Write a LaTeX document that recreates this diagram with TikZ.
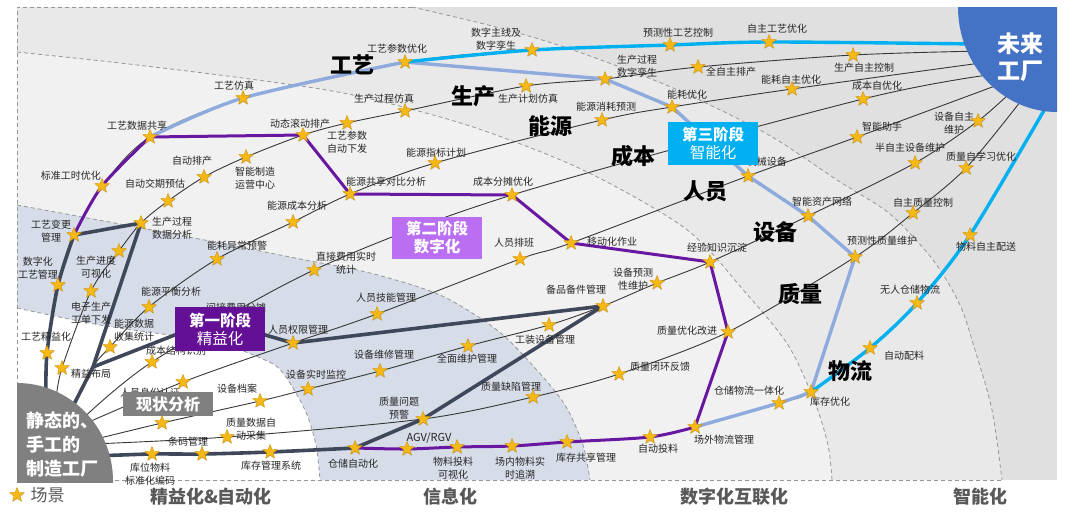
\documentclass[tikz,border=0pt]{standalone}
\usepackage{fontspec}
\setmainfont{Noto Sans CJK SC}
\usetikzlibrary{shapes.geometric,positioning,shadows}
\definecolor{LeanInk}{RGB}{62,72,90}
\definecolor{LeanPurple}{RGB}{100,16,150}
\definecolor{InfoPurple}{RGB}{104,24,160}
\definecolor{DigiViolet}{RGB}{186,110,242}
\definecolor{DigiBlue}{RGB}{143,170,220}
\definecolor{SmartCyan}{RGB}{0,176,240}
\definecolor{FutureBlue}{RGB}{68,114,196}
\definecolor{StartGray}{RGB}{128,128,128}
\definecolor{TrackInk}{RGB}{55,55,55}
\definecolor{LabelInk}{RGB}{38,38,38}
\definecolor{SceneGold}{RGB}{245,184,20}
\definecolor{SceneEdge}{RGB}{214,150,0}
\definecolor{ZoneOuter}{RGB}{224,224,224}
\definecolor{ZoneSmart}{RGB}{233,233,233}
\definecolor{ZoneDigi}{RGB}{241,241,241}
\definecolor{ZoneInfo}{RGB}{214,220,232}
\definecolor{DashGray}{RGB}{150,150,150}
\definecolor{StageInk}{RGB}{89,89,89}

\begin{document}
\begin{tikzpicture}[
    x=1pt, y=-1pt,
    track/.style={draw=TrackInk, line width=0.9pt},
    leanpath/.style={draw=LeanInk, line width=3.6pt, line join=round},
    infopath/.style={draw=InfoPurple, line width=3pt, line join=round},
    digipath/.style={draw=DigiBlue, line width=3.4pt, line join=round},
    smartpath/.style={draw=SmartCyan, line width=3.4pt, line join=round},
    bandline/.style={draw=DashGray, line width=0.8pt, dash pattern=on 4pt off 3pt},
    scene/.style={star, star points=5, star point ratio=2.4, minimum size=15pt, inner sep=0pt,
                  fill=SceneGold, draw=SceneEdge, line width=0.4pt,
                  drop shadow={shadow xshift=0.7pt, shadow yshift=-0.7pt, opacity=0.35}},
    lbl/.style={font=\fontsize{10}{12.5}\selectfont, text=LabelInk, inner sep=0pt, align=center},
    domainlbl/.style={font=\fontsize{22}{24}\selectfont\bfseries, inner sep=0pt},
    phasebox/.style={minimum width=90pt, inner sep=0pt, text=white, align=center,
                     font=\fontsize{15.5}{18}\selectfont},
    stagelbl/.style={font=\fontsize{18}{20}\selectfont\bfseries, text=StageInk, inner sep=0pt}
]
\useasboundingbox (0,0) rectangle (1080,512);

% zones
\fill[ZoneOuter] (17,7) rectangle (1057,480);
\fill[ZoneSmart] (17,7) -- plot[smooth] coordinates {(412,7) (500,28) (573,50) (673,88) (767,134) (837,180) (890,214) (933,260) (960,305) (975,350) (992,410) (1002,480)} -- (17,480) -- cycle;
\fill[ZoneDigi] plot[smooth] coordinates {(17,52) (120,63) (250,79) (353,95) (470,126) (583,170) (686,229) (745,292) (788,345) (814,400) (828,445) (832,480)} -- (17,480) -- cycle;
\fill[ZoneInfo] plot[smooth] coordinates {(17,205) (120,224) (220,243) (300,259) (370,273) (440,295) (497,330) (535,368) (565,405) (583,445) (590,480)} -- (17,480) -- cycle;
\fill[white] plot[smooth] coordinates {(17,308) (100,325) (213,342) (265,360) (283,373) (305,410) (316,445) (320,480)} -- (17,480) -- cycle;

\draw[bandline] (412,7) -- (17,7) -- (17,480) -- (1002,480);
\draw[bandline] plot[smooth] coordinates {(412,7) (500,28) (573,50) (673,88) (767,134) (837,180) (890,214) (933,260) (960,305) (975,350) (992,410) (1002,480)};
\draw[bandline] plot[smooth] coordinates {(17,52) (120,63) (250,79) (353,95) (470,126) (583,170) (686,229) (745,292) (788,345) (814,400) (828,445) (832,480)};
\draw[bandline] plot[smooth] coordinates {(17,205) (120,224) (220,243) (300,259) (370,273) (440,295) (497,330) (535,368) (565,405) (583,445) (590,480)};
\draw[bandline] plot[smooth] coordinates {(17,308) (100,325) (213,342) (265,360) (283,373) (305,410) (316,445) (320,480)};

% scene positions
\coordinate (gy0) at (46,402); \coordinate (gy1) at (47,353); \coordinate (gy2) at (58,285);
\coordinate (gy3) at (74,235); \coordinate (gy4) at (102,186); \coordinate (gy5) at (150,137);
\coordinate (gy6) at (243,98); \coordinate (gy7) at (405,62); \coordinate (gy8) at (532,50);
\coordinate (gy9) at (670,45); \coordinate (gy10) at (769,42); \coordinate (gyE) at (975,44);

\coordinate (sc0) at (56,400); \coordinate (sc1) at (62,368); \coordinate (sc2) at (91,291);
\coordinate (sc3) at (119,251); \coordinate (sc4) at (141,223); \coordinate (sc5) at (168,201);
\coordinate (sc6) at (204,177); \coordinate (sc7) at (246,157); \coordinate (sc8) at (303,135);
\coordinate (sc9) at (347,123); \coordinate (sc10) at (405,111); \coordinate (sc11) at (526,86);
\coordinate (sc12) at (605,79); \coordinate (sc13) at (698,67); \coordinate (sc14) at (853,55);
\coordinate (scE) at (982,51);

\coordinate (ny0) at (70,412); \coordinate (nyJ) at (93,367); \coordinate (ny1) at (110,347);
\coordinate (ny2) at (149,307); \coordinate (ny3) at (217,259); \coordinate (ny4) at (293,222);
\coordinate (ny5) at (350,194); \coordinate (ny6) at (435,163); \coordinate (ny7) at (602,120);
\coordinate (ny8) at (672,107); \coordinate (ny9) at (792,89); \coordinate (nyE) at (988,62);

\coordinate (cb0) at (78,423); \coordinate (cb1) at (152,362); \coordinate (cb3) at (314,270);
\coordinate (cb5) at (512,195); \coordinate (cb7) at (863,99); \coordinate (cbE) at (995,74);

\coordinate (ry0) at (82,425); \coordinate (ry1) at (183,382); \coordinate (ry2) at (293,343);
\coordinate (ry3) at (377,314); \coordinate (ry4) at (520,259); \coordinate (ry5) at (571,243);
\coordinate (ry6) at (748,176); \coordinate (ry7) at (857,137); \coordinate (ryE) at (1003,83);

\coordinate (sb0) at (88,441); \coordinate (sb1) at (162,423); \coordinate (sb2) at (260,401);
\coordinate (sb3) at (308,389); \coordinate (sb4) at (380,371); \coordinate (sb5) at (468,346);
\coordinate (sb6) at (549,325); \coordinate (sb7) at (603,306); \coordinate (sb8) at (657,283);
\coordinate (sb9) at (710,262); \coordinate (sb10) at (808,216); \coordinate (sb11) at (915,163);
\coordinate (sb12) at (978,121); \coordinate (sbE) at (1012,91);

\coordinate (zl0) at (92,444); \coordinate (zl1) at (227,437); \coordinate (zl2) at (423,419);
\coordinate (zl3) at (533,397); \coordinate (zl4) at (619,374); \coordinate (zl5) at (728,332);
\coordinate (zl6) at (855,257); \coordinate (zl7) at (913,213); \coordinate (zl8) at (966,168);
\coordinate (zlE) at (1024,97);

\coordinate (wl0) at (95,456); \coordinate (wl1) at (152,454); \coordinate (wl2) at (202,454);
\coordinate (wl3) at (270,452); \coordinate (wl4) at (355,448); \coordinate (wl5) at (407,449);
\coordinate (wl6) at (457,447); \coordinate (wl7) at (512,446); \coordinate (wl8) at (567,442);
\coordinate (wl9) at (650,437); \coordinate (wl10) at (695,427); \coordinate (wl11) at (779,403);
\coordinate (wl12) at (811,392); \coordinate (wl13) at (870,348); \coordinate (wl14) at (917,303);
\coordinate (wl15) at (970,235); \coordinate (wlE) at (1050,100);

\coordinate (leanapex) at (213,320);

% tracks
\draw[track] plot[smooth] coordinates {(gy0) (gy1) (gy2) (gy3) (gy4) (gy5) (gy6) (gy7) (gy8) (gy9) (gy10) (gyE)};
\draw[track] plot[smooth] coordinates {(sc0) (sc1) (sc2) (sc3) (sc4) (sc5) (sc6) (sc7) (sc8) (sc9) (sc10) (sc11) (sc12) (sc13) (sc14) (scE)};
\draw[track] plot[smooth] coordinates {(ny0) (nyJ) (ny1) (ny2) (ny3) (ny4) (ny5) (ny6) (ny7) (ny8) (ny9) (nyE)};
\draw[track] plot[smooth] coordinates {(cb0) (cb1) (cb3) (cb5) (cb7) (cbE)};
\draw[track] plot[smooth] coordinates {(ry0) (ry1) (ry2) (ry3) (ry4) (ry5) (ry6) (ry7) (ryE)};
\draw[track] plot[smooth] coordinates {(sb0) (sb1) (sb2) (sb3) (sb4) (sb5) (sb6) (sb7) (sb8) (sb9) (sb10) (sb11) (sb12) (sbE)};
\draw[track] plot[smooth] coordinates {(zl0) (zl1) (zl2) (zl3) (zl4) (zl5) (zl6) (zl7) (zl8) (zlE)};
\draw[track] plot[smooth] coordinates {(wl0) (wl1) (wl2) (wl3) (wl4) (wl5) (wl6) (wl7) (wl8) (wl9) (wl10) (wl11) (wl12) (wl13) (wl14) (wl15) (wlE)};

% stage frontiers
\draw[leanpath] plot[smooth] coordinates {(gy0) (gy1) (gy2) (gy3)};
\draw[leanpath] (gy3) -- (sc4) -- (nyJ) -- (leanapex) -- (ry2) -- (sb7) -- (zl2) -- (wl4);
\draw[leanpath] (ny0) -- (nyJ);
\draw[leanpath] plot[smooth] coordinates {(wl0) (wl1) (wl2) (wl3) (wl4)};

\draw[infopath] plot[smooth] coordinates {(gy3) (gy4) (gy5)};
\draw[infopath] (gy5) -- (sc8) -- (ny5) -- (cb5) -- (ry5) -- (sb9) -- (zl5) -- (wl10);
\draw[infopath] plot[smooth] coordinates {(wl4) (wl5) (wl6) (wl7) (wl8) (wl9) (wl10)};

\draw[digipath] plot[smooth] coordinates {(gy5) (gy6) (gy7)};
\draw[digipath] (gy7) -- (sc12) -- (ny8) -- (ry6) -- (sb10) -- (zl6) -- (wl12);
\draw[digipath] plot[smooth] coordinates {(wl10) (wl11) (wl12)};

\draw[smartpath] plot[smooth] coordinates {(gy7) (gy8) (gy9) (gy10) (gyE)};
\draw[smartpath] plot[smooth] coordinates {(wl12) (wl13) (wl14) (wl15) (wlE)};

% start and goal
\begin{scope}
  \clip (17,380) rectangle (116,482);
  \fill[StartGray] (17,481) ellipse[x radius=96pt, y radius=98pt];
\end{scope}
\begin{scope}
  \clip (955,7) rectangle (1057,115);
  \fill[FutureBlue] (1057,7) ellipse[x radius=99pt, y radius=105pt];
\end{scope}

% domains
\node[domainlbl] (d-gy) at (352,65) {工艺};
\node[domainlbl] (d-sc) at (473,96) {生产};
\node[domainlbl] (d-ny) at (550,126) {能源};
\node[domainlbl] (d-cb) at (633,156) {成本};
\node[domainlbl] (d-ry) at (705,191) {人员};
\node[domainlbl] (d-sb) at (775,232) {设备};
\node[domainlbl] (d-zl) at (800,294) {质量};
\node[domainlbl] (d-wl) at (850,371) {物流};

% scene labels
\node[lbl] (l-gy1) at (46,337) {工艺精益化};
\node[lbl] (l-gy2) at (38,268) {数字化\\工艺管理};
\node[lbl] (l-gy3) at (51,231) {工艺变更\\管理};
\node[lbl] (l-gy4) at (71,176) {标准工时优化};
\node[lbl] (l-gy5) at (137,126) {工艺数据共享};
\node[lbl] (l-gy6) at (234,86) {工艺仿真};
\node[lbl] (l-gy7) at (397,49) {工艺参数优化};
\node[lbl] (l-gy8) at (496,39) {数字主线及\\数字孪生};
\node[lbl] (l-gy9) at (678,33) {预测性工艺控制};
\node[lbl] (l-gy10) at (777,29) {自主工艺优化};

\node[lbl] (l-sc1) at (91,374) {精益布局};
\node[lbl] (l-sc2) at (91,313) {电子生产\\工单下发};
\node[lbl] (l-sc3) at (96,267) {生产进度\\可视化};
\node[lbl] (l-sc4) at (172,228) {生产过程\\数据分析};
\node[lbl] (l-sc5) at (155,184) {自动交期预估};
\node[lbl] (l-sc6) at (192,161) {自动排产};
\node[lbl] (l-sc7) at (255,178) {智能制造\\运营中心};
\node[lbl] (l-sc8) at (300,124) {动态滚动排产};
\node[lbl] (l-sc9) at (347,142) {工艺参数\\自动下发};
\node[lbl] (l-sc10) at (384,99) {生产过程仿真};
\node[lbl] (l-sc11) at (528,99) {生产计划仿真};
\node[lbl] (l-sc12) at (637,66) {生产过程\\数字孪生};
\node[lbl] (l-sc13) at (731,72) {全自主排产};
\node[lbl] (l-sc14) at (864,68) {生产自主控制};

\node[lbl] (l-ny1) at (134,330) {能源数据\\收集统计};
\node[lbl] (l-ny2) at (171,292) {能源平衡分析};
\node[lbl] (l-ny3) at (237,246) {能耗异常预警};
\node[lbl] (l-ny4) at (297,206) {能源成本分析};
\node[lbl] (l-ny5) at (386,182) {能源共享对比分析};
\node[lbl] (l-ny6) at (436,153) {能源指标计划};
\node[lbl] (l-ny7) at (606,107) {能源消耗预测};
\node[lbl] (l-ny8) at (687,95) {能耗优化};
\node[lbl] (l-ny9) at (791,80) {能耗自主优化};

\node[lbl] (l-cb1) at (176,351) {成本结构识别};
\node[lbl] (l-cb2) at (236,308) {间接费用分摊};
\node[lbl] (l-cb3) at (346,263) {直接费用实时\\统计};
\node[lbl] (l-cb5) at (503,182) {成本分摊优化};
\node[lbl] (l-cb7) at (877,86) {成本自优化};

\node[lbl] (l-ry1) at (150,393) {人员身份认证};
\node[lbl] (l-ry2) at (298,330) {人员权限管理};
\node[lbl] (l-ry3) at (386,298) {人员技能管理};
\node[lbl] (l-ry4) at (514,243) {人员排班};
\node[lbl] (l-ry5) at (612,242) {移动化作业};
\node[lbl, anchor=east] (l-ry6) at (787,162) {机械设备};
\node[lbl] (l-ry7) at (882,127) {智能助手};

\node[lbl] (l-sb2) at (237,389) {设备档案};
\node[lbl] (l-sb3) at (316,375) {设备实时监控};
\node[lbl] (l-sb4) at (384,355) {设备维修管理};
\node[lbl] (l-sb5) at (467,359) {全面维护管理};
\node[lbl] (l-sb6) at (545,340) {工装设备管理};
\node[lbl] (l-sb7) at (576,290) {备品备件管理};
\node[lbl] (l-sb8) at (633,279) {设备预测\\性维护};
\node[lbl] (l-sb9) at (717,248) {经验知识沉淀};
\node[lbl] (l-sb10) at (822,202) {智能资产网络};
\node[lbl] (l-sb11) at (910,148) {半自主设备维护};
\node[lbl] (l-sb12) at (954,123) {设备自主\\维护};

\node[lbl] (l-zl1) at (251,429) {质量数据自\\动采集};
\node[lbl] (l-zl2) at (399,408) {质量问题\\预警};
\node[lbl] (l-zl3) at (511,387) {质量缺陷管理};
\node[lbl] (l-zl4) at (660,367) {质量闭环反馈};
\node[lbl] (l-zl5) at (687,331) {质量优化改进};
\node[lbl] (l-zl6) at (882,241) {预测性质量维护};
\node[lbl] (l-zl7) at (923,203) {自主质量控制};
\node[lbl] (l-zl8) at (981,157) {质量自学习优化};

\node[lbl] (l-wl1) at (150,474) {库位物料\\标准化编码};
\node[lbl] (l-wl2) at (188,442) {条码管理};
\node[lbl] (l-wl3) at (271,466) {库存管理系统};
\node[lbl] (l-wl4) at (353,464) {仓储自动化};
\node[lbl, font=\fontsize{11}{13}\selectfont] (l-wl5) at (429,438) {AGV/RGV};
\node[lbl] (l-wl6) at (453,468) {物料投料\\可视化};
\node[lbl] (l-wl7) at (520,468) {场内物料实\\时追溯};
\node[lbl] (l-wl8) at (586,458) {库存共享管理};
\node[lbl] (l-wl9) at (658,449) {自动投料};
\node[lbl] (l-wl10) at (724,440) {场外物流管理};
\node[lbl] (l-wl11) at (749,391) {仓储物流一体化};
\node[lbl] (l-wl12) at (830,402) {库存优化};
\node[lbl] (l-wl13) at (904,356) {自动配料};
\node[lbl] (l-wl14) at (910,290) {无人仓储物流};
\node[lbl] (l-wl15) at (986,247) {物料自主配送};

% scenes
\foreach \scn in {gy1,gy2,gy3,gy4,gy5,gy6,gy7,gy8,gy9,gy10,
                  sc1,sc2,sc3,sc4,sc5,sc6,sc7,sc8,sc9,sc10,sc11,sc12,sc13,sc14,
                  ny1,ny2,ny3,ny4,ny5,ny6,ny7,ny8,ny9,
                  cb1,cb3,cb5,cb7,
                  ry1,ry2,ry3,ry4,ry5,ry6,ry7,
                  sb1,sb2,sb3,sb4,sb5,sb6,sb7,sb8,sb9,sb10,sb11,sb12,
                  zl1,zl2,zl3,zl4,zl5,zl6,zl7,zl8,
                  wl1,wl2,wl3,wl4,wl5,wl6,wl7,wl8,wl9,wl10,wl11,wl12,wl13,wl14,wl15}
  \node[scene] (s-\scn) at (\scn) {};

% stages
\node[phasebox, fill=StartGray, minimum height=24pt, font=\fontsize{16}{18}\selectfont\bfseries] (stage0) at (168,404) {现状分析};
\node[phasebox, fill=LeanPurple, minimum height=44pt] (stage1) at (220,329) {\textbf{第一阶段}\\精益化};
\node[phasebox, fill=DigiViolet, minimum height=42pt] (stage2) at (437,238) {\textbf{第二阶段}\\\textbf{数字化}};
\node[phasebox, fill=SmartCyan, minimum height=43pt] (stage3) at (713,143.5) {\textbf{第三阶段}\\智能化};

\node[font=\fontsize{18}{24}\selectfont\bfseries, text=white, align=left, anchor=west, inner sep=0pt] (origin) at (26,445) {静态的、\\手工的\\制造工厂};
\node[font=\fontsize{23}{27}\selectfont\bfseries, text=white, align=center, inner sep=0pt] (future) at (1020,57) {未来\\工厂};

% legend and zone names
\node[scene] (legend) at (17,495) {};
\node[font=\fontsize{17}{20}\selectfont, text=StageInk, inner sep=0pt, right=9pt of legend] (legend-t) {场景};
\node[stagelbl] (z-lean) at (211,497) {精益化\&自动化};
\node[stagelbl] (z-info) at (450,497) {信息化};
\node[stagelbl] (z-digi) at (734,497) {数字化互联化};
\node[stagelbl] (z-smart) at (980,497) {智能化};
\end{tikzpicture}
\end{document}
